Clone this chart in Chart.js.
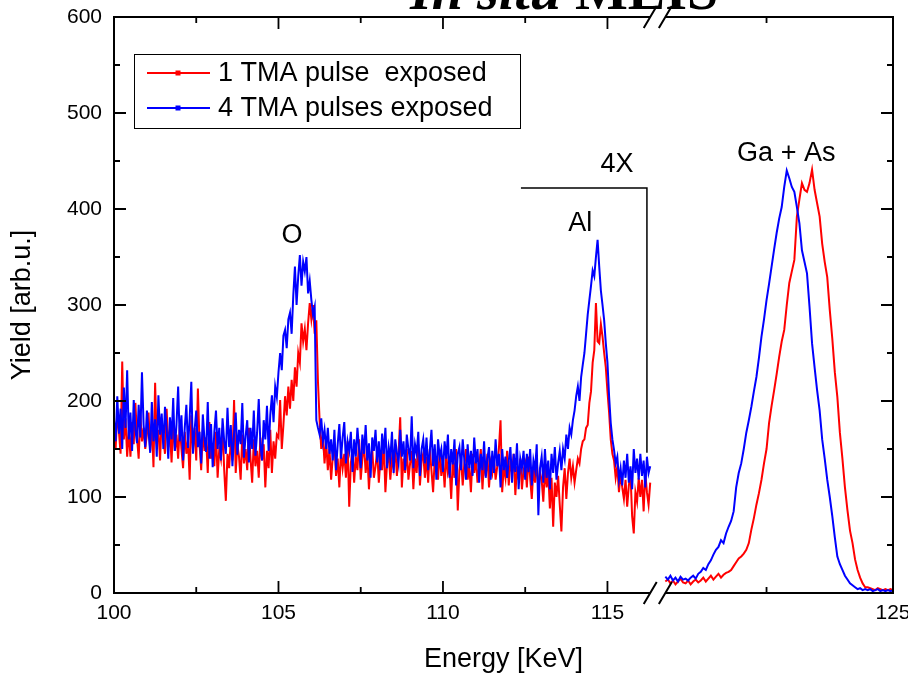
<!DOCTYPE html>
<html>
<head>
<meta charset="utf-8">
<script src="https://cdn.jsdelivr.net/npm/chart.js@4.4.1/dist/chart.umd.min.js"></script>
<style>
  html, body { margin: 0; padding: 0; background: #fff; }
  #wrap { width: 908px; height: 677px; position: relative; }
</style>
</head>
<body>
<div id="wrap"><canvas id="chart"></canvas></div>
<script>
const seriesLabels = ['1 TMA pulse  exposed', '4 TMA pulses exposed'];
const seriesColors = ['#ff0000', '#0000ff'];

// energy channels: left part 100.00-116.30 keV, right part 120.50-125.00 keV, 0.05 keV apart
const leftStart = 100;
const rightStart = 120.5;
const channel = 0.05;

const redLeft = [
  172,150,190,168,145,241,160,182,142,170, 142,178,155,198,162,140,186,158,172,150,
  165,188,148,176,131,219,155,170,138,182, 160,145,192,152,170,136,180,148,165,140,
  175,150,130,168,145,160,118,185,150,172, 138,213,155,128,170,148,162,125,178,140,
  155,132,168,120,150,140,172,128,96,145,  130,160,138,201,125,155,142,118,165,135,
  150,128,172,140,115,160,132,148,120,162, 138,155,110,148,130,170,125,158,140,165,
  162,201,150,175,205,185,215,192,222,200, 235,215,250,240,281,262,275,253,281,302,
  285,300,270,284,220,180,150,165,135,158, 128,150,118,142,155,122,140,110,148,130,
  145,120,158,90,135,150,115,142,128,160,  118,140,155,125,145,108,138,150,120,132,
  148,115,140,128,158,105,135,145,118,140, 130,152,122,145,183,110,140,125,150,118,
  135,148,108,140,125,155,112,138,145,120, 142,115,150,128,105,140,132,118,148,122,
  138,110,145,125,132,98,140,120,150,86,   128,140,112,135,150,118,132,105,145,125,
  140,115,132,150,108,138,122,145,110,135, 125,140,118,132,150,180,105,132,120,148,
  112,138,125,145,102,132,118,140,108,128, 135,110,142,120,98,130,115,140,105,125,
  118,95,130,110,125,88,120,69,115,100,    122,92,64,110,130,98,125,140,120,132,
  115,128,140,135,150,158,160,172,175,198, 210,240,253,302,262,260,280,267,250,235,
  210,188,160,145,138,120,132,105,125,110, 98,118,90,112,125,80,62,105,95,120,
  100,118,85,125,105,92,115
];
const blueLeft = [
  180,158,205,166,192,150,214,172,232,160, 188,148,201,170,156,196,162,230,175,152,
  190,168,146,199,158,181,142,206,165,187, 150,194,171,140,183,160,203,148,176,215,
  158,185,138,172,196,151,182,220,145,170, 190,152,168,135,186,160,147,199,140,176,
  131,168,190,150,172,138,182,158,145,193, 152,175,132,166,188,144,170,155,198,141,
  163,180,136,172,150,190,143,167,202,155, 138,180,160,195,148,185,206,178,215,204,
  230,250,232,268,274,255,285,292,270,310, 340,300,330,352,320,345,335,350,312,325,
  305,290,298,180,172,165,182,158,170,150, 172,145,160,138,170,128,155,176,140,162,
  178,135,158,148,168,126,160,142,172,150, 130,165,145,175,138,156,120,162,148,170,
  136,158,128,166,145,172,130,152,140,168, 125,160,146,135,170,142,158,128,165,150,
  138,184,130,155,145,168,122,150,160,135, 162,128,148,170,132,155,118,160,142,150,
  126,158,140,165,120,150,134,160,112,145, 152,128,160,138,118,155,130,148,122,162,
  135,150,115,145,128,158,120,140,152,118, 148,125,160,132,145,110,150,128,142,120,
  138,152,115,145,126,156,108,140,130,148, 118,145,126,150,112,138,128,155,81,130,
  142,115,150,120,138,108,145,125,152,118, 135,148,128,150,140,165,150,172,165,180,
  190,205,215,200,225,238,250,270,290,305, 320,336,330,350,368,340,315,300,284,260,
  240,205,177,160,149,135,142,118,130,112, 138,120,145,115,132,108,150,125,140,118,
  145,122,138,110,142,125,132
];
const redRight = [
  12,14,10,13,9,12,15,11,10,13, 9,12,14,11,13,16,12,15,18,14,
  17,20,16,19,21,22,24,28,32,36, 38,41,45,52,66,78,92,104,118,135,
  150,177,195,211,228,246,262,274,300,323, 335,347,392,410,427,420,418,427,441,420,
  406,392,364,345,329,295,265,230,204,167, 140,110,86,65,52,35,24,16,10,6,
  6,5,4,3,5,4,3,4,3,4, 3
];
const blueRight = [
  17,14,18,13,16,12,17,14,15,13, 16,18,15,20,22,26,24,30,34,40,
  45,48,55,52,62,69,75,85,110,125, 135,150,167,180,194,210,225,245,267,285,
  305,322,340,358,375,390,402,423,440,432, 423,418,402,385,357,345,333,298,260,235,
  211,190,160,140,118,100,80,58,38,30, 24,18,14,10,8,6,4,5,3,4,
  3,4,2,3,4,2,3,2,3,2, 3
];

const xMajorTicks = [100, 105, 110, 115, 125];
const xMinorTicks = [102.5, 107.5, 112.5, 122.5];
const yMajorTicks = [0, 100, 200, 300, 400, 500, 600];
const yMinorTicks = [50, 150, 250, 350, 450, 550];

const peakLabels = ['O', 'Al', '4X', 'Ga + As'];
const peakEnergy = [105.41, 114.17, 115.29, 122.89];
const peakYield = [372, 385, 446, 458];

// broken axis: the right part (120.5-125) is squeezed in after the break
const breakLeft = 116.3, breakRight = 116.76, axisMax = 123.68;
function toAxis(e) {
  if (e <= breakLeft + 1e-9) return e;
  return breakRight + (e - rightStart) * (axisMax - breakRight) / (125 - rightStart);
}

function buildPoints(left, right) {
  const pts = left.map((v, i) => ({ x: leftStart + i * channel, y: v }));
  pts.push({ x: (breakLeft + breakRight) / 2, y: null });
  right.forEach((v, i) => pts.push({ x: toAxis(rightStart + i * channel), y: v }));
  return pts;
}

const sans = '"Liberation Sans", Arial, sans-serif';

const framePlugin = {
  id: 'frame',
  afterDatasetsDraw(chart) {
    const { ctx, chartArea: a, scales: { x, y } } = chart;
    const b1 = x.getPixelForValue(breakLeft), b2 = x.getPixelForValue(breakRight);
    ctx.save();
    ctx.strokeStyle = '#000';
    ctx.lineWidth = 2;
    ctx.lineCap = 'butt';
    ctx.beginPath();
    // left / right
    ctx.moveTo(a.left, a.top - 1); ctx.lineTo(a.left, a.bottom + 1);
    ctx.moveTo(a.right, a.top - 1); ctx.lineTo(a.right, a.bottom + 1);
    // top and bottom with a gap at the break
    [a.top, a.bottom].forEach(yy => {
      ctx.moveTo(a.left, yy); ctx.lineTo(b1, yy);
      ctx.moveTo(b2, yy); ctx.lineTo(a.right, yy);
    });
    ctx.stroke();

    // break marks
    ctx.beginPath();
    [a.top, a.bottom].forEach(yy => {
      [b1, b2].forEach(xx => {
        ctx.moveTo(xx - 6.5, yy + 11); ctx.lineTo(xx + 6.5, yy - 11);
      });
    });
    ctx.stroke();

    // inward ticks
    ctx.lineWidth = 1.8;
    ctx.beginPath();
    const xt = (v, len) => {
      const px = x.getPixelForValue(toAxis(v));
      if (px <= a.left + 1 || px >= a.right - 1) return;
      ctx.moveTo(px, a.bottom); ctx.lineTo(px, a.bottom - len);
      ctx.moveTo(px, a.top); ctx.lineTo(px, a.top + len);
    };
    xMajorTicks.forEach(v => xt(v, 12));
    xMinorTicks.forEach(v => xt(v, 6));
    const yt = (v, len) => {
      const py = y.getPixelForValue(v);
      if (py <= a.top + 1 || py >= a.bottom - 1) return;
      ctx.moveTo(a.left, py); ctx.lineTo(a.left + len, py);
      ctx.moveTo(a.right, py); ctx.lineTo(a.right - len, py);
    };
    yMajorTicks.forEach(v => yt(v, 12));
    yMinorTicks.forEach(v => yt(v, 6));
    ctx.stroke();

    // 4X bracket
    ctx.lineWidth = 1.5;
    ctx.beginPath();
    ctx.moveTo(x.getPixelForValue(112.37), y.getPixelForValue(422));
    ctx.lineTo(x.getPixelForValue(116.2), y.getPixelForValue(422));
    ctx.lineTo(x.getPixelForValue(116.2), y.getPixelForValue(146));
    ctx.stroke();

    // peak labels
    ctx.fillStyle = '#000';
    ctx.font = '27px ' + sans;
    ctx.textAlign = 'center';
    ctx.textBaseline = 'middle';
    peakLabels.forEach((t, i) => {
      ctx.fillText(t, x.getPixelForValue(toAxis(peakEnergy[i])), y.getPixelForValue(peakYield[i]));
    });

    // legend
    ctx.lineWidth = 1;
    ctx.strokeRect(134.5, 54.5, 386, 74);
    chart.data.datasets.forEach((ds, i) => {
      const ly = 73 + i * 35;
      ctx.strokeStyle = ds.borderColor;
      ctx.fillStyle = ds.borderColor;
      ctx.lineWidth = 2;
      ctx.beginPath();
      ctx.moveTo(147, ly); ctx.lineTo(210, ly);
      ctx.stroke();
      ctx.fillRect(175.5, ly - 2.5, 5, 5);
      ctx.fillStyle = '#000';
      ctx.textAlign = 'left';
      ctx.fillText(ds.label, 218, ly + 1);
    });

    // title, mostly cut off by the top edge
    ctx.textBaseline = 'alphabetic';
    ctx.textAlign = 'left';
    ctx.fillStyle = '#000';
    ctx.font = 'italic bold 56px "Liberation Serif", "Times New Roman", serif';
    ctx.fillText('In situ ', 410, 9);
    const w = ctx.measureText('In situ ').width;
    ctx.font = 'bold 56px "Liberation Serif", "Times New Roman", serif';
    ctx.fillText('MEIS', 410 + w, 9);
    ctx.restore();
  }
};

const ctx = document.getElementById('chart').getContext('2d');
new Chart(ctx, {
  type: 'line',
  data: {
    datasets: [
      { label: seriesLabels[0], data: buildPoints(redLeft, redRight), borderColor: seriesColors[0],
        borderWidth: 2, pointRadius: 0, tension: 0, spanGaps: false, order: 2 },
      { label: seriesLabels[1], data: buildPoints(blueLeft, blueRight), borderColor: seriesColors[1],
        borderWidth: 2, pointRadius: 0, tension: 0, spanGaps: false, order: 1 }
    ]
  },
  options: {
    responsive: true,
    maintainAspectRatio: false,
    animation: false,
    layout: { padding: { top: 17, right: 15, left: 0, bottom: 0 } },
    plugins: { legend: { display: false }, tooltip: { enabled: false } },
    scales: {
      x: {
        type: 'linear', min: 100, max: axisMax,
        grid: { display: false, drawTicks: false },
        border: { display: false },
        afterBuildTicks: s => { s.ticks = xMajorTicks.map(v => ({ value: toAxis(v) })); },
        afterFit: s => { s.height = 84; s.paddingLeft = 0; s.paddingRight = 0; },
        ticks: {
          autoSkip: false, maxRotation: 0, padding: 8, color: '#000',
          font: { family: sans, size: 21 },
          callback: (v, i) => String(xMajorTicks[i])
        },
        title: { display: true, text: 'Energy [KeV]', color: '#000', font: { family: sans, size: 27 }, padding: 1 }
      },
      y: {
        min: 0, max: 600,
        grid: { display: false, drawTicks: false },
        border: { display: false },
        afterBuildTicks: s => { s.ticks = yMajorTicks.map(v => ({ value: v })); },
        afterFit: s => { s.width = 114; s.paddingTop = 0; s.paddingBottom = 0; },
        ticks: { padding: 12, color: '#000', font: { family: sans, size: 21 } },
        title: { display: true, text: 'Yield [arb.u.]', color: '#000', font: { family: sans, size: 27 }, padding: 6 }
      }
    }
  },
  plugins: [framePlugin]
});
</script>
</body>
</html>
